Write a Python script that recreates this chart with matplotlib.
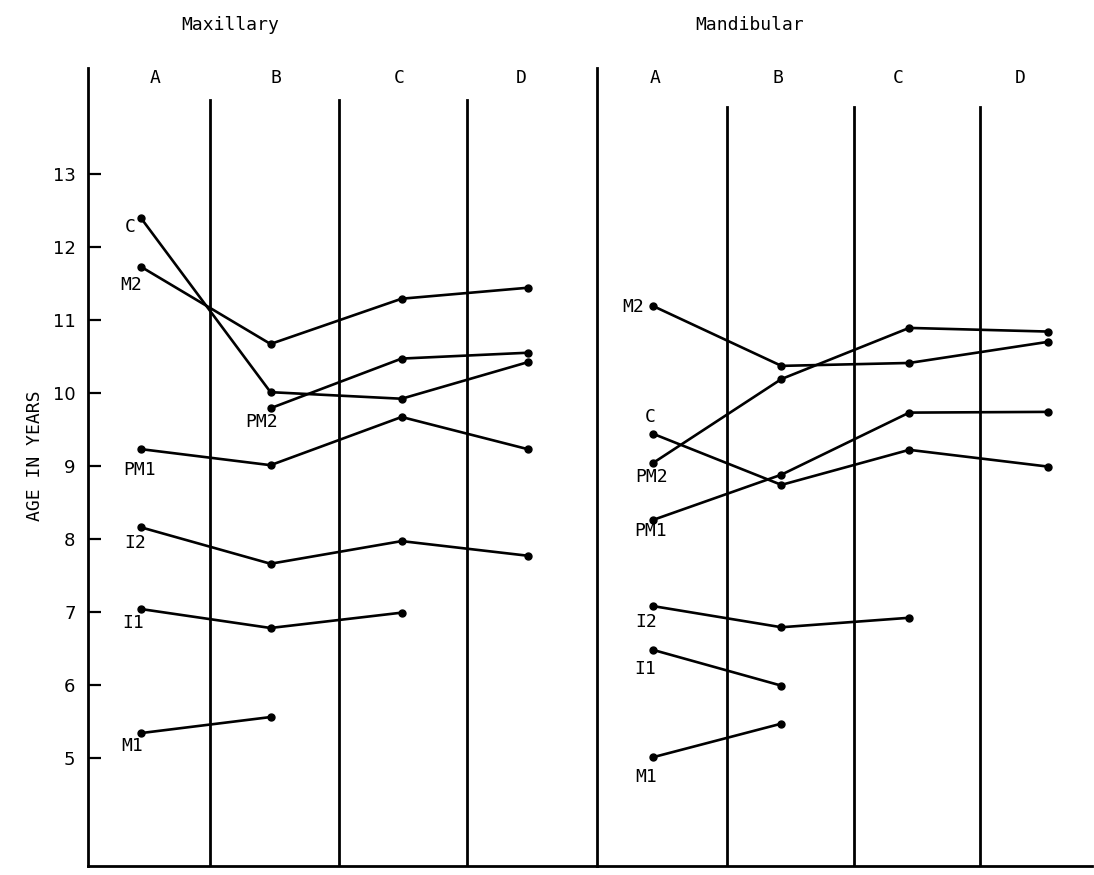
import matplotlib.pyplot as plt
import matplotlib.transforms as mtransforms

# mean age (years) at each stage, columns A-D; None = no value
columns = ['A', 'B', 'C', 'D']

max_C = [12.40, 10.01, 9.92, 10.42]
max_M2 = [11.73, 10.67, 11.29, 11.44]
max_PM2 = [None, 9.79, 10.47, 10.55]
max_PM1 = [9.23, 9.01, 9.67, 9.23]
max_I2 = [8.16, 7.66, 7.97, 7.77]
max_I1 = [7.04, 6.78, 6.99, None]
max_M1 = [5.34, 5.56, None, None]

man_M2 = [11.19, 10.37, 10.41, 10.70]
man_C = [9.44, 8.74, 9.22, 8.99]
man_PM2 = [9.04, 10.19, 10.89, 10.84]
man_PM1 = [8.26, 8.88, 9.73, 9.74]
man_I2 = [7.08, 6.79, 6.92, None]
man_I1 = [6.48, 5.99, None, None]
man_M1 = [5.01, 5.47, None, None]

age_ticks = [5, 6, 7, 8, 9, 10, 11, 12, 13]

MONO = 'DejaVu Sans Mono'

# label name, values, label offset in pixels from the first point
maxillary = [
    ('C', max_C, (-11, -9)),
    ('M2', max_M2, (-10, -18)),
    ('PM2', max_PM2, (-9, -14)),
    ('PM1', max_PM1, (-1, -21)),
    ('I2', max_I2, (-6, -16)),
    ('I1', max_I1, (-8, -14)),
    ('M1', max_M1, (-9, -13)),
]
mandibular = [
    ('M2', man_M2, (-20, -1)),
    ('C', man_C, (-3, 17)),
    ('PM2', man_PM2, (-1, -14)),
    ('PM1', man_PM1, (-2, -11)),
    ('I2', man_I2, (-7, -16)),
    ('I1', man_I1, (-8, -19)),
    ('M1', man_M1, (-7, -20)),
]

W, H = 1094, 875
fig = plt.figure(figsize=(W / 100, H / 100), dpi=100)

y_bot, y_top = 3.52, 14.45
ax1 = fig.add_axes([88 / W, 9 / H, (597 - 88) / W, (866 - 68) / H])
ax2 = fig.add_axes([597 / W, 9 / H, (1092 - 597) / W, (866 - 68) / H], sharey=ax1)

panels = [
    # axes, series, xlim, point x, column label x, divider top (axes frac), title, title x
    (ax1, maxillary, (0.05, 4.01), [0.46, 1.47, 2.49, 3.47], [0.57, 1.51, 2.47, 3.42], 0.96, 'Maxillary', 230),
    (ax2, mandibular, (-0.028, 3.885), [0.415, 1.43, 2.44, 3.54], [0.43, 1.40, 2.35, 3.32], 0.951, 'Mandibular', 750),
]

for ax, series, xlim, px, lx, dtop, title, tx in panels:
    ax.set_xlim(*xlim)
    ax.set_ylim(y_bot, y_top)
    for s in ['top', 'right']:
        ax.spines[s].set_visible(False)
    ax.spines['left'].set_linewidth(2)
    ax.spines['bottom'].set_linewidth(2)
    ax.set_xticks([])

    # column dividers
    for d in [1, 2, 3]:
        ax.axvline(d, ymin=0, ymax=dtop, color='black', lw=2)

    trans = mtransforms.blended_transform_factory(ax.transData, ax.transAxes)
    for x, c in zip(lx, columns):
        ax.text(x, 0.987, c, transform=trans, ha='center', va='center',
                fontsize=13, family=MONO)

    for name, vals, off in series:
        xs = [x for x, v in zip(px, vals) if v is not None]
        ys = [v for v in vals if v is not None]
        ax.plot(xs, ys, color='black', lw=1.9, marker='o', markersize=5,
                solid_capstyle='round')
        ax.annotate(name, (xs[0], ys[0]), xytext=off, textcoords='offset pixels',
                    ha='center', va='center', fontsize=13, family=MONO)

    fig.text(tx / W, 1 - 25 / H, title, ha='center', va='center',
             fontsize=13, family=MONO)

ax1.set_yticks(age_ticks)
ax1.set_yticklabels([str(t) for t in age_ticks])
ax1.tick_params(axis='y', direction='in', length=9, width=1.6, pad=9, labelsize=13)
ax2.tick_params(axis='y', left=False, labelleft=False)

fig.text(35 / W, 1 - 456 / H, 'AGE IN YEARS', rotation=90, ha='center', va='center',
         fontsize=13, family=MONO)

fig.savefig('out.png', dpi=100)
